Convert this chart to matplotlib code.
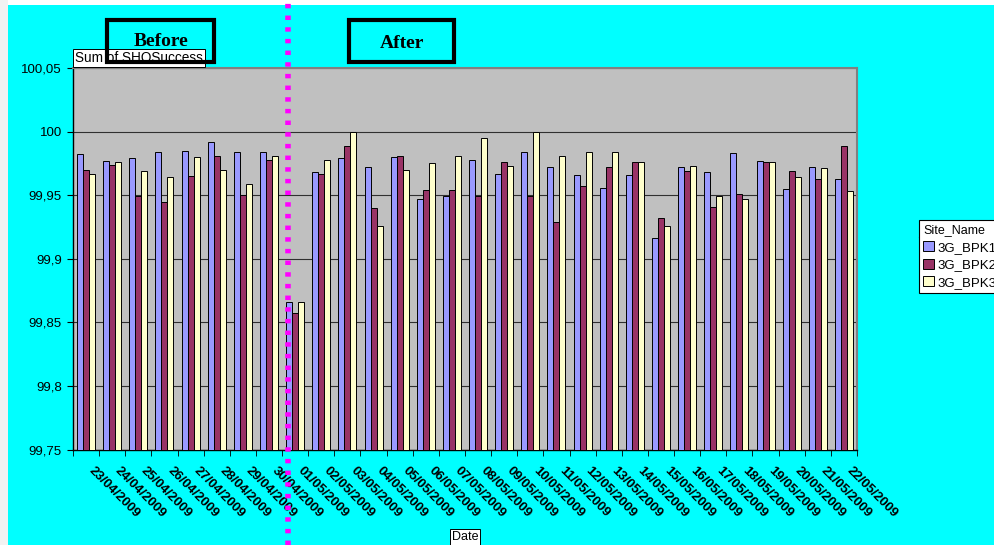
import matplotlib
matplotlib.use("Agg")
import matplotlib.pyplot as plt
import matplotlib.transforms as mtransforms
from matplotlib.patches import Rectangle, Patch
from matplotlib.lines import Line2D
import numpy as np

# ---- data -------------------------------------------------------------
dates = [
    "23/04/2009", "24/04/2009", "25/04/2009", "26/04/2009", "27/04/2009",
    "28/04/2009", "29/04/2009", "30/04/2009", "01/05/2009", "02/05/2009",
    "03/05/2009", "04/05/2009", "05/05/2009", "06/05/2009", "07/05/2009",
    "08/05/2009", "09/05/2009", "10/05/2009", "11/05/2009", "12/05/2009",
    "13/05/2009", "14/05/2009", "15/05/2009", "16/05/2009", "17/05/2009",
    "18/05/2009", "19/05/2009", "20/05/2009", "21/05/2009", "22/05/2009",
]
site_names = ["3G_BPK1", "3G_BPK2", "3G_BPK3"]
bpk1 = [99.982, 99.977, 99.979, 99.984, 99.985, 99.992, 99.984, 99.984, 99.866, 99.968,
        99.979, 99.972, 99.980, 99.947, 99.949, 99.978, 99.967, 99.984, 99.972, 99.966,
        99.956, 99.966, 99.916, 99.972, 99.968, 99.983, 99.977, 99.955, 99.972, 99.963]
bpk2 = [99.970, 99.974, 99.949, 99.945, 99.965, 99.981, 99.950, 99.978, 99.857, 99.967,
        99.989, 99.940, 99.981, 99.954, 99.954, 99.949, 99.976, 99.949, 99.929, 99.957,
        99.972, 99.976, 99.932, 99.969, 99.941, 99.951, 99.976, 99.969, 99.963, 99.989]
bpk3 = [99.967, 99.976, 99.969, 99.964, 99.980, 99.970, 99.959, 99.981, 99.866, 99.978,
        100.000, 99.926, 99.970, 99.975, 99.981, 99.995, 99.973, 100.000, 99.981, 99.984,
        99.984, 99.976, 99.926, 99.973, 99.949, 99.947, 99.976, 99.964, 99.971, 99.953]
y_ticks = [99.75, 99.80, 99.85, 99.90, 99.95, 100.00, 100.05]
y_tick_labels = ["99,75", "99,8", "99,85", "99,9", "99,95", "100", "100,05"]

# ---- styling ----------------------------------------------------------
plt.rcParams["font.family"] = ["Liberation Sans", "DejaVu Sans"]
plt.rcParams["lines.scale_dashes"] = False

W, H = 995, 545
fig = plt.figure(figsize=(W / 100, H / 100), dpi=100)
fig.patch.set_facecolor("white")


def fx(px):
    return px / W


def fy(py):
    return 1 - py / H


# chart background
fig.add_artist(Rectangle((fx(8), 0), 1 - fx(8), fy(5), transform=fig.transFigure,
                         facecolor="#00FFFF", edgecolor="none", zorder=0))
fig.add_artist(Rectangle((0, 0), fx(8), 1, transform=fig.transFigure,
                         facecolor="#F2F2F2", edgecolor="none", zorder=0))

ax = fig.add_axes([fx(73), fy(449.5), fx(857) - fx(73), fy(68) - fy(449.5)])
ax.set_facecolor("#C0C0C0")

base = y_ticks[0]
x = np.arange(len(dates))
bw = 0.23
colors = ["#9999FF", "#993366", "#FFFFCC"]
series = [bpk1, bpk2, bpk3]
handles = []
for i, (vals, col) in enumerate(zip(series, colors)):
    v = np.asarray(vals)
    ax.bar(x + (i - 1) * bw, v - base, bottom=base, width=bw, color=col,
           edgecolor="black", linewidth=0.7, zorder=3)
    handles.append(Patch(facecolor=col, edgecolor="black", linewidth=0.7))

ax.set_xlim(-0.5, len(dates) - 0.5)
ax.set_ylim(y_ticks[0], y_ticks[-1])
ax.set_yticks(y_ticks, y_tick_labels)
ax.yaxis.grid(True, color="#303030", linewidth=0.8)
ax.set_axisbelow(True)
ax.tick_params(axis="y", length=4, direction="out", labelsize=9.5, pad=4, colors="black")

ax.set_xticks(x, dates)
ax.set_xticks(np.arange(-0.5, len(dates), 1), minor=True)
ax.tick_params(axis="x", which="major", length=0, pad=11)
ax.tick_params(axis="x", which="minor", length=4, direction="out", color="black")
shift = mtransforms.ScaledTranslation(9 / 100, 0, fig.dpi_scale_trans)
for lbl in ax.get_xticklabels():
    lbl.set_rotation(-45)
    lbl.set_rotation_mode("anchor")
    lbl.set_ha("left")
    lbl.set_va("top")
    lbl.set_fontsize(9.5)
    lbl.set_fontweight("bold")
    lbl.set_transform(lbl.get_transform() + shift)

for side in ("left", "bottom"):
    ax.spines[side].set_color("black")
    ax.spines[side].set_linewidth(1.0)
for side in ("top", "right"):
    ax.spines[side].set_color("#808080")
    ax.spines[side].set_linewidth(1.5)

# legend with field name header
leg = fig.legend(handles, site_names, title="Site_Name", loc="upper left",
                 bbox_to_anchor=(fx(919), fy(220)), borderaxespad=0,
                 frameon=True, fancybox=False, edgecolor="black", framealpha=1,
                 fontsize=9.5, title_fontsize=9, alignment="left",
                 handlelength=0.8, handleheight=0.8, handletextpad=0.3,
                 borderpad=0.3, labelspacing=0.38)
leg.get_frame().set_linewidth(0.8)
fig.add_artist(Line2D([fx(919), fx(1000)], [fy(237), fy(237)], transform=fig.transFigure,
                      color="black", linewidth=0.8))

# field labels
fig.text(fx(75), fy(58), "Sum of SHOSuccess", fontsize=9.8, ha="left", va="center",
         zorder=5, bbox=dict(boxstyle="square,pad=0.12", facecolor="white",
                             edgecolor="black", linewidth=0.7))
fig.text(fx(465), fy(537), "Date", fontsize=9, ha="center", va="center",
         bbox=dict(boxstyle="square,pad=0.15", facecolor="white",
                   edgecolor="black", linewidth=0.7))

# period annotations
fig.text(fx(161), fy(42), "Before", fontsize=14, fontweight="bold",
         family=["Liberation Serif", "DejaVu Serif"], ha="center", va="center", zorder=4)
fig.text(fx(402), fy(44), "After", fontsize=14, fontweight="bold",
         family=["Liberation Serif", "DejaVu Serif"], ha="center", va="center", zorder=4)
for x0, x1 in [(107, 214), (349, 454)]:
    fig.add_artist(Rectangle((fx(x0), fy(62)), fx(x1) - fx(x0), fy(20) - fy(62),
                             transform=fig.transFigure, facecolor="none",
                             edgecolor="black", linewidth=3.0, zorder=6))

# separator between the two periods
fig.add_artist(Line2D([fx(288.5), fx(288.5)], [0, 1], transform=fig.transFigure,
                      color="#FF00FF", linewidth=4.0, dashes=(3.2, 5.2),
                      solid_capstyle="butt", dash_capstyle="butt", zorder=7))

fig.savefig("out.png", dpi=100, facecolor=fig.get_facecolor())
